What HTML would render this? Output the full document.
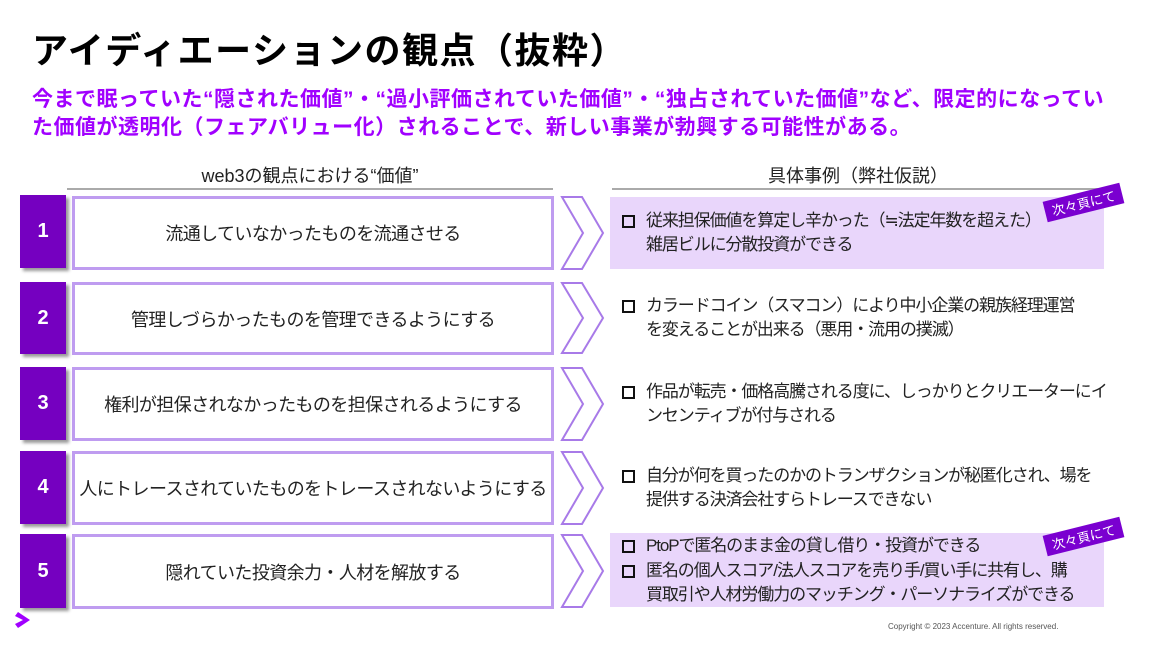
<!DOCTYPE html>
<html><head><meta charset="utf-8"><style>
body{margin:0;width:1152px;height:648px;background:#fff;position:relative;overflow:hidden;font-family:"Liberation Sans","Noto Sans CJK JP",sans-serif;color:#222}
.a{position:absolute}
.t{left:32px;top:22px;font-size:36px;font-weight:bold;color:#000;letter-spacing:1.5px;white-space:nowrap}
.s{left:32px;top:86px;font-size:21px;font-weight:bold;color:#a100ff;line-height:28px;white-space:nowrap;letter-spacing:0.5px}
.h{font-size:18px;text-align:center;border-bottom:2px solid #aaa;height:26px;top:162px}
.n{left:20px;width:46px;background:#7500c0;color:#fff;font-weight:bold;font-size:20px;display:flex;align-items:center;justify-content:center;box-shadow:3px 3px 3px #999}
.b{left:72px;width:476px;border:3px solid #bf9cf0;background:#fff;display:flex;align-items:center;justify-content:center;font-size:18px;box-sizing:content-box;white-space:nowrap;letter-spacing:-0.6px}
.r{left:610px;width:494px;font-size:17px;line-height:24px;padding-left:12px;box-sizing:border-box;display:flex;flex-direction:column;justify-content:center;white-space:nowrap;letter-spacing:-1.1px}
.r.hl{background:#e9d6fb}
.r p{margin:0;padding-left:24px;position:relative}
.r p:before{content:"";position:absolute;left:0;top:6px;width:9px;height:9px;border:2px solid #111}
.tag{background:#7a00d0;color:#fff;font-size:13px;padding:1px 7px;transform:rotate(-14deg);white-space:nowrap}
</style></head><body>
<div class="a t">アイディエーションの観点（抜粋）</div>
<div class="a s">今まで眠っていた“隠された価値”・“過小評価されていた価値”・“独占されていた価値”など、限定的になってい<br>た価値が透明化（フェアバリュー化）されることで、新しい事業が勃興する可能性がある。</div>
<div class="a h" style="left:67px;width:486px">web3の観点における“価値”</div>
<div class="a h" style="left:612px;width:492px">具体事例（弊社仮説）</div>

<svg class="a" style="left:0;top:0" width="1152" height="648">
<g fill="#fff" stroke="#a87ae8" stroke-width="2">
<polygon points="562,197 582,197 603,233 582,269 562,269 583,233"/>
<polygon points="562,283 582,283 603,318 582,353 562,353 583,318"/>
<polygon points="562,368 582,368 603,404 582,440 562,440 583,404"/>
<polygon points="562,452 582,452 603,488 582,524 562,524 583,488"/>
<polygon points="562,535 582,535 603,571 582,607 562,607 583,571"/>
</g>
<polygon points="18,612 30,620 18,628 15,624 23,620 15,616" fill="#a100ff"/>
</svg>

<div class="a n" style="top:195px;height:73px">1</div>
<div class="a b" style="top:196px;height:68px">流通していなかったものを流通させる</div>
<div class="a n" style="top:282px;height:72px">2</div>
<div class="a b" style="top:282px;height:67px">管理しづらかったものを管理できるようにする</div>
<div class="a n" style="top:367px;height:73px">3</div>
<div class="a b" style="top:367px;height:68px">権利が担保されなかったものを担保されるようにする</div>
<div class="a n" style="top:451px;height:73px">4</div>
<div class="a b" style="top:451px;height:68px">人にトレースされていたものをトレースされないようにする</div>
<div class="a n" style="top:534px;height:74px">5</div>
<div class="a b" style="top:534px;height:69px">隠れていた投資余力・人材を解放する</div>

<div class="a r hl" style="top:197px;height:72px"><p>従来担保価値を算定し辛かった（≒法定年数を超えた）<br>雑居ビルに分散投資ができる</p></div>
<div class="a r" style="top:283px;height:70px"><p>カラードコイン（スマコン）により中小企業の親族経理運営<br>を変えることが出来る（悪用・流用の撲滅）</p></div>
<div class="a r" style="top:368px;height:72px"><p>作品が転売・価格高騰される度に、しっかりとクリエーターにイ<br>ンセンティブが付与される</p></div>
<div class="a r" style="top:452px;height:72px"><p>自分が何を買ったのかのトランザクションが秘匿化され、場を<br>提供する決済会社すらトレースできない</p></div>
<div class="a r hl" style="top:533px;height:74px;justify-content:space-around"><p>PtoPで匿名のまま金の貸し借り・投資ができる</p><p>匿名の個人スコア/法人スコアを売り手/買い手に共有し、購<br>買取引や人材労働力のマッチング・パーソナライズができる</p></div>

<div class="a tag" style="left:1044px;top:192px">次々頁にて</div>
<div class="a tag" style="left:1044px;top:526px">次々頁にて</div>
<div class="a" style="left:888px;top:622px;font-size:8px;color:#555">Copyright © 2023 Accenture. All rights reserved.</div>
</body></html>
